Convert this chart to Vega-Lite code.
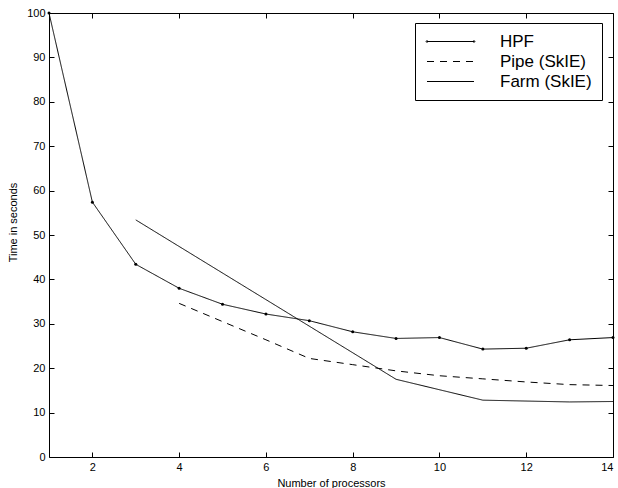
{
  "$schema": "https://vega.github.io/schema/vega-lite/v6.json",
  "width": 564,
  "height": 444,
  "autosize": {"type": "none"},
  "padding": {"left": 49, "top": 13, "right": 5, "bottom": 31},
  "background": "white",
  "config": {
    "view": {"stroke": "black", "strokeWidth": 1},
    "font": "Liberation Sans",
    "axis": {
      "grid": false,
      "domainColor": "black",
      "tickColor": "black",
      "labelColor": "black",
      "titleColor": "black",
      "labelFont": "Liberation Sans",
      "titleFont": "Liberation Sans",
      "labelFontSize": 11,
      "titleFontSize": 11,
      "titleFontWeight": "normal",
      "tickSize": -5
    },
    "legend": {
      "orient": "none",
      "legendX": 366,
      "legendY": 10,
      "strokeColor": "black",
      "fillColor": "white",
      "padding": 10,
      "symbolOffset": 17,
      "labelOffset": 41,
      "labelFont": "Liberation Sans",
      "labelFontSize": 17,
      "labelColor": "black",
      "symbolType": "M-4,0H4",
      "symbolSize": 138,
      "symbolStrokeWidth": 1,
      "symbolStrokeColor": "black",
      "rowPadding": 2
    }
  },
  "resolve": {"axis": {"x": "independent", "y": "independent"}},
  "data": {
    "values": [
      {"n": 1, "t": 100, "s": "HPF"},
      {"n": 2, "t": 57.4, "s": "HPF"},
      {"n": 3, "t": 43.4, "s": "HPF"},
      {"n": 4, "t": 38.0, "s": "HPF"},
      {"n": 5, "t": 34.4, "s": "HPF"},
      {"n": 6, "t": 32.2, "s": "HPF"},
      {"n": 7, "t": 30.7, "s": "HPF"},
      {"n": 8, "t": 28.2, "s": "HPF"},
      {"n": 9, "t": 26.7, "s": "HPF"},
      {"n": 10, "t": 26.9, "s": "HPF"},
      {"n": 11, "t": 24.3, "s": "HPF"},
      {"n": 12, "t": 24.5, "s": "HPF"},
      {"n": 13, "t": 26.4, "s": "HPF"},
      {"n": 14, "t": 26.9, "s": "HPF"},
      {"n": 4, "t": 34.6, "s": "Pipe (SkIE)"},
      {"n": 5, "t": 30.5, "s": "Pipe (SkIE)"},
      {"n": 6, "t": 26.4, "s": "Pipe (SkIE)"},
      {"n": 7, "t": 22.2, "s": "Pipe (SkIE)"},
      {"n": 8, "t": 20.8, "s": "Pipe (SkIE)"},
      {"n": 9, "t": 19.4, "s": "Pipe (SkIE)"},
      {"n": 10, "t": 18.3, "s": "Pipe (SkIE)"},
      {"n": 11, "t": 17.6, "s": "Pipe (SkIE)"},
      {"n": 12, "t": 16.9, "s": "Pipe (SkIE)"},
      {"n": 13, "t": 16.3, "s": "Pipe (SkIE)"},
      {"n": 14, "t": 16.1, "s": "Pipe (SkIE)"},
      {"n": 3, "t": 53.4, "s": "Farm (SkIE)"},
      {"n": 9, "t": 17.5, "s": "Farm (SkIE)"},
      {"n": 11, "t": 12.8, "s": "Farm (SkIE)"},
      {"n": 13, "t": 12.4, "s": "Farm (SkIE)"},
      {"n": 14, "t": 12.5, "s": "Farm (SkIE)"}
    ]
  },
  "layer": [
    {
      "mark": {"type": "line", "color": "black", "strokeWidth": 1, "clip": true},
      "encoding": {
        "x": {
          "field": "n", "type": "quantitative",
          "scale": {"domain": [1, 14], "nice": false, "zero": false},
          "axis": {"orient": "bottom", "title": "Number of processors", "values": [2, 4, 6, 8, 10, 12, 14], "domain": false, "labelPadding": 9, "titlePadding": 5}
        },
        "y": {
          "field": "t", "type": "quantitative",
          "scale": {"domain": [0, 100], "nice": false},
          "axis": {"orient": "left", "title": "Time in seconds", "values": [0, 10, 20, 30, 40, 50, 60, 70, 80, 90, 100], "domain": false, "labelPadding": 9, "titlePadding": 8, "titleY": 209}
        },
        "strokeDash": {
          "field": "s", "type": "nominal",
          "scale": {"domain": ["HPF", "Pipe (SkIE)", "Farm (SkIE)"], "range": [[1, 0], [7, 6], [1, 0]]},
          "legend": {
            "title": null,
            "encode": {
              "symbols": {
                "update": {
                  "shape": {"signal": "datum.value === 'HPF' ? 'M-4,0H4M-4.15,0a0.15,0.15 0 1,0 0.3,0a0.15,0.15 0 1,0 -0.3,0M3.85,0a0.15,0.15 0 1,0 0.3,0a0.15,0.15 0 1,0 -0.3,0' : 'M-4,0H4'"}
                }
              }
            }
          }
        },
        "order": {"field": "n", "type": "quantitative"}
      }
    },
    {
      "transform": [{"filter": "datum.s === 'HPF'"}],
      "mark": {"type": "point", "filled": true, "color": "black", "size": 9, "opacity": 1},
      "encoding": {
        "x": {"field": "n", "type": "quantitative", "axis": {"orient": "top", "labels": false, "title": null, "values": [2, 4, 6, 8, 10, 12, 14], "domain": false}},
        "y": {"field": "t", "type": "quantitative", "axis": {"orient": "right", "labels": false, "title": null, "values": [0, 10, 20, 30, 40, 50, 60, 70, 80, 90, 100], "domain": false}}
      }
    }
  ]
}
